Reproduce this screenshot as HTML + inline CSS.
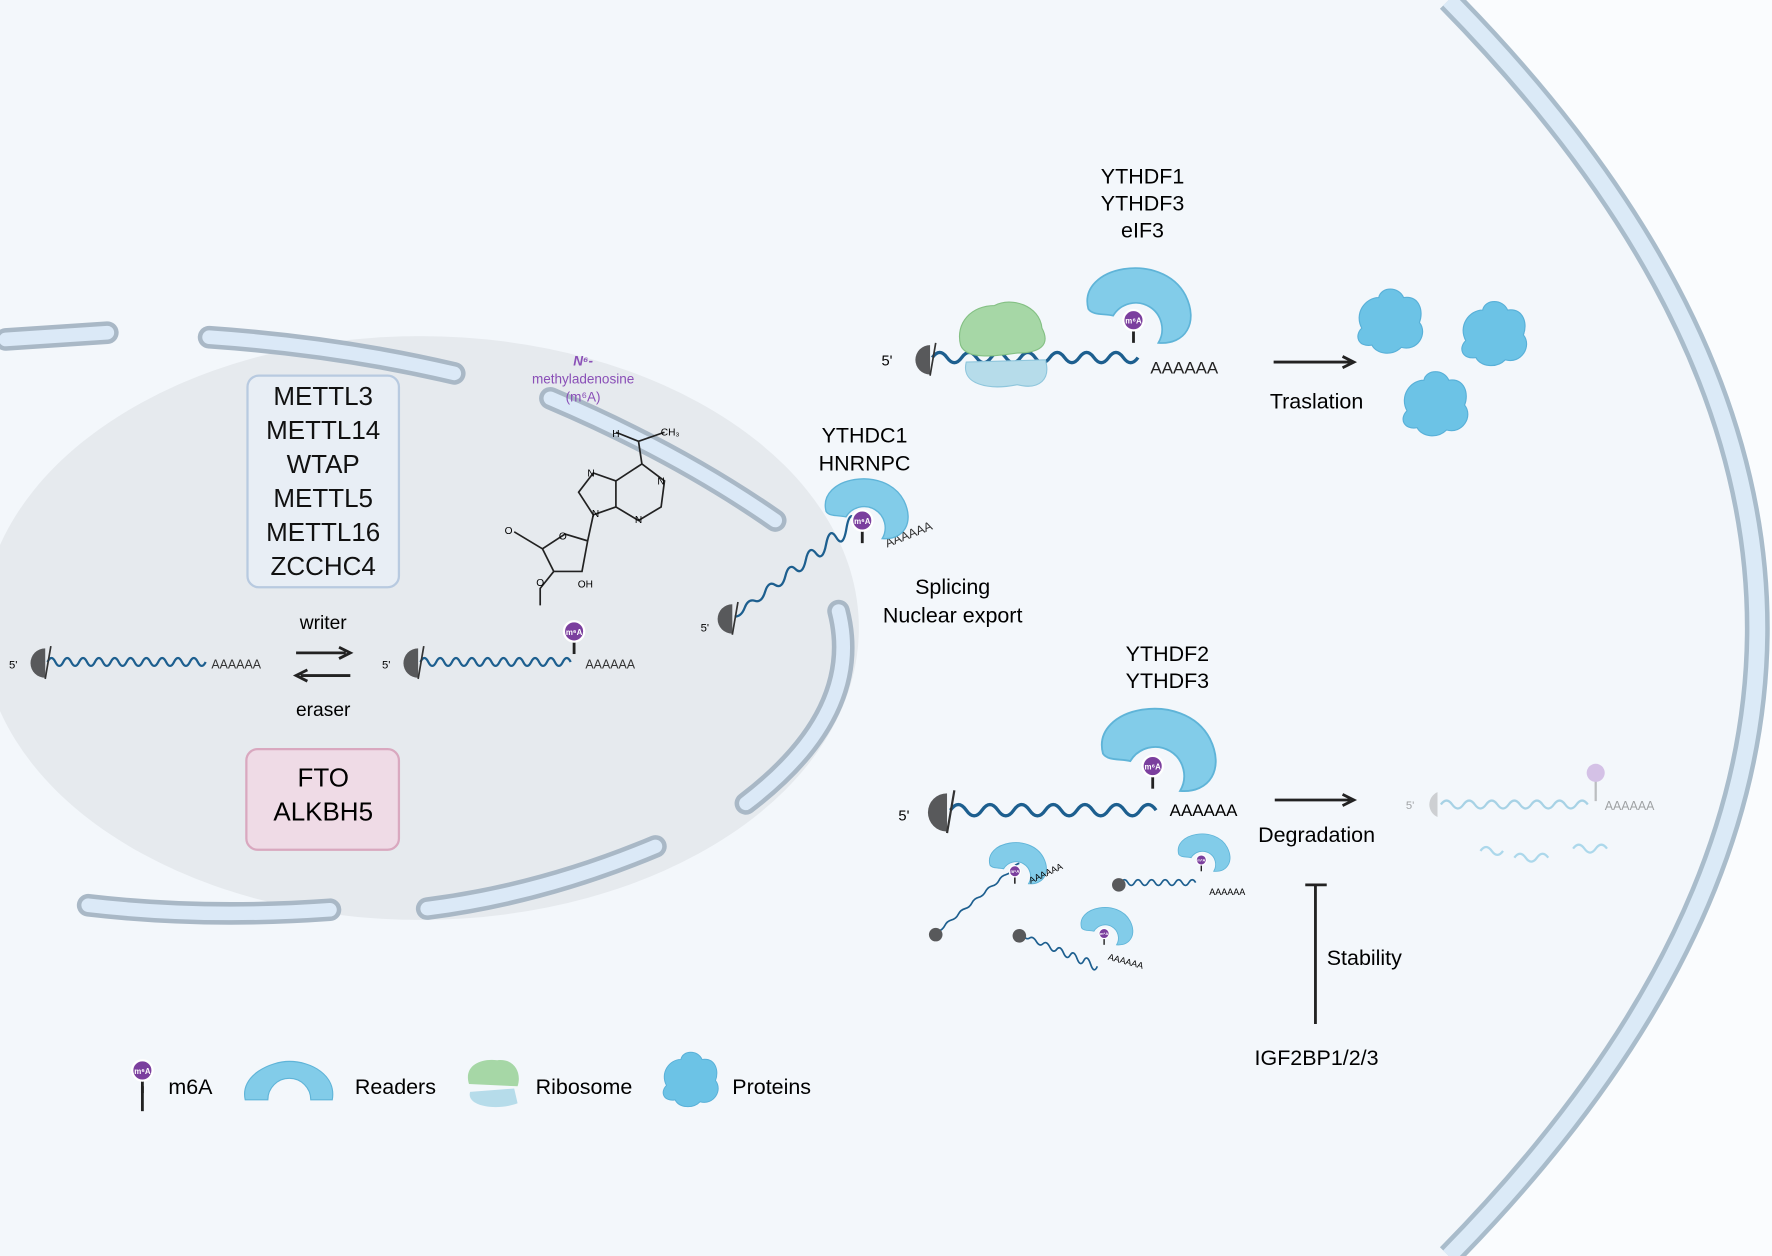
<!DOCTYPE html>
<html><head><meta charset="utf-8"><style>
html,body{margin:0;padding:0;background:#f8fafd;}
svg{display:block;font-family:"Liberation Sans",sans-serif;}
</style></head><body>
<svg width="1772" height="1256" viewBox="0 0 1568 1110" preserveAspectRatio="none" xmlns="http://www.w3.org/2000/svg">
<defs>
<g id="cap"><path d="M0,-13 A13,13 0 0,0 0,13 Z" fill="#58595b"/><line x1="0" y1="14" x2="5" y2="-15" stroke="#333" stroke-width="1.5"/></g>
<g id="m6a"><line x1="0" y1="0" x2="0" y2="20" stroke="#222" stroke-width="2.5"/><circle cx="0" cy="0" r="9" fill="#7b3f9e" stroke="#fff" stroke-width="2"/><text x="0" y="3" font-size="7" fill="#fff" text-anchor="middle" font-weight="bold">m⁶A</text></g>
<path id="reader" d="M-40,-10 C-50,-48 25,-62 46,-22 C58,2 46,22 22,20 A20,20 0 0,0 -18,-4 C-26,-6 -36,-4 -40,-10 Z" fill="#82cce9" stroke="#5fb4d8" stroke-width="1.5"/>
<g id="prot"><path d="M-25,5 C-32,-8 -22,-22 -10,-22 C-8,-32 8,-32 12,-22 C26,-24 30,-10 26,0 C34,10 24,26 10,22 C2,30 -12,28 -16,20 C-28,22 -32,12 -25,5 Z" fill="#6cc3e6" stroke="#58b0d8" stroke-width="1"/></g>
</defs>
<rect width="1568" height="1110" fill="#fafcfe"/>
<!-- cell interior -->
<path d="M0,0 L1282,0 Q1828,555 1282,1110 L0,1110 Z" fill="#f3f7fb"/>
<path d="M1282,0 Q1828,555 1282,1110" fill="none" stroke="#a9bccb" stroke-width="22"/>
<path d="M1282,0 Q1828,555 1282,1110" fill="none" stroke="#dbeaf7" stroke-width="14"/>
<!-- nucleus -->
<ellipse cx="372" cy="555" rx="388" ry="258" fill="#e6eaee"/>
<g fill="none" stroke-linecap="round">
<g stroke="#a9b8c6" stroke-width="20">
<path d="M5,300 L95,294"/><path d="M185,298 Q300,306 402,330"/><path d="M487,352 Q600,400 686,460"/>
<path d="M742,540 Q765,630 660,710"/><path d="M580,748 Q480,790 378,803"/><path d="M78,800 Q180,812 292,804"/>
</g>
<g stroke="#dbe9f7" stroke-width="12">
<path d="M5,300 L95,294"/><path d="M185,298 Q300,306 402,330"/><path d="M487,352 Q600,400 686,460"/>
<path d="M742,540 Q765,630 660,710"/><path d="M580,748 Q480,790 378,803"/><path d="M78,800 Q180,812 292,804"/>
</g>
</g>
<!-- writer box -->
<rect x="219" y="332" width="134" height="187" rx="10" fill="#e8eef5" stroke="#b8cae0" stroke-width="2"/>
<g font-size="23" text-anchor="middle" fill="#111">
<text x="286" y="358">METTL3</text><text x="286" y="388">METTL14</text><text x="286" y="418">WTAP</text>
<text x="286" y="448">METTL5</text><text x="286" y="478">METTL16</text><text x="286" y="508">ZCCHC4</text>
</g>
<rect x="218" y="662" width="135" height="89" rx="10" fill="#efdbe6" stroke="#d9a8bf" stroke-width="2"/>
<text x="286" y="695" font-size="23" text-anchor="middle">FTO</text>
<text x="286" y="725" font-size="23" text-anchor="middle">ALKBH5</text>
<text x="286" y="556" font-size="17" text-anchor="middle">writer</text>
<text x="286" y="633" font-size="17" text-anchor="middle">eraser</text>
<path d="M262,577 H306 M300,572 L310,577 L300,582" stroke="#222" stroke-width="2.5" fill="none"/>
<path d="M266,597 H310 M272,592 L262,597 L272,602" stroke="#222" stroke-width="2.5" fill="none"/>
<!-- m6A molecule -->
<text x="516" y="323" font-size="12" fill="#8a4fb7" text-anchor="middle" font-style="italic" font-weight="bold">N⁶-</text>
<text x="516" y="339" font-size="12" fill="#8a4fb7" text-anchor="middle">methyladenosine</text>
<text x="516" y="355" font-size="12" fill="#8a4fb7" text-anchor="middle">(m⁶A)</text>
<g stroke="#222" stroke-width="1.5" fill="none">
<path d="M565,390 L545,382 M565,390 L588,382 M565,390 L568,410 L588,425 L585,448 L565,460 L545,448 L545,425 L568,410 M545,425 L525,418 L512,435 L525,455 L545,448 M525,455 L520,478 L500,472 L480,485 L490,505 L515,505 L520,478 M490,505 L478,520 L478,535 M480,485 L455,470"/>
</g>
<g font-size="9" text-anchor="middle"><text x="545" y="386">H</text><text x="593" y="385">CH₃</text><text x="523" y="421">N</text><text x="585" y="428">N</text><text x="565" y="462">N</text><text x="527" y="457">N</text><text x="498" y="477">O</text><text x="518" y="519">OH</text><text x="478" y="518">O</text><text x="450" y="472">O</text></g>
<!-- nuclear RNAs -->
<g fill="none" stroke="#1d5f8f" stroke-width="2">
<path d="M42,585 q3.5,-7 7,0 t7,0 t7,0 t7,0 t7,0 t7,0 t7,0 t7,0 t7,0 t7,0 t7,0 t7,0 t7,0 t7,0 t7,0 t7,0 t7,0 t7,0 t7,0 t7,0"/>
<path d="M372,585 q3.5,-7 7,0 t7,0 t7,0 t7,0 t7,0 t7,0 t7,0 t7,0 t7,0 t7,0 t7,0 t7,0 t7,0 t7,0 t7,0 t7,0 t7,0 t7,0 t7,0"/>
</g>
<use href="#cap" x="40" y="586"/><use href="#cap" x="370" y="586"/>
<text x="8" y="591" font-size="10">5'</text><text x="338" y="591" font-size="10">5'</text>
<text x="187" y="591" font-size="11" fill="#333">AAAAAA</text><text x="518" y="591" font-size="11" fill="#333">AAAAAA</text>
<use href="#m6a" x="508" y="558"/>
<!-- exported RNA -->
<path d="M650,545 q6,0 9,-8 t9,-6 t9,-8 t9,-6 t9,-8 t9,-6 t9,-8 t9,-6 t9,-8 t9,-6 t9,-8 t9,-6 t9,-8" fill="none" stroke="#1d5f8f" stroke-width="2"/>
<use href="#cap" x="648" y="547"/><text x="620" y="558" font-size="10">5'</text>
<text x="785" y="484" font-size="11" fill="#333" transform="rotate(-22 785 484)">AAAAAA</text>
<g transform="translate(763 460) scale(0.8)"><use href="#reader"/></g>
<use href="#m6a" x="763" y="460"/>
<text x="765" y="391" font-size="19" text-anchor="middle">YTHDC1</text>
<text x="765" y="416" font-size="19" text-anchor="middle">HNRNPC</text>
<text x="843" y="525" font-size="19" text-anchor="middle">Splicing</text>
<text x="843" y="550" font-size="19" text-anchor="middle">Nuclear export</text>
<!-- translation -->
<text x="1011" y="162" font-size="19" text-anchor="middle">YTHDF1</text>
<text x="1011" y="186" font-size="19" text-anchor="middle">YTHDF3</text>
<text x="1011" y="210" font-size="19" text-anchor="middle">eIF3</text>
<path d="M825,316 q6.5,-9 13,0 t13,0 t13,0 t13,0 t13,0 t13,0 t13,0 t13,0 t13,0 t13,0 t13,0 t13,0 t13,0 t13,0" fill="none" stroke="#1d5f8f" stroke-width="3"/>
<path d="M855,320 C850,340 875,345 900,340 C920,345 930,335 925,318 Z" fill="#b6dcea" stroke="#8fc6dc"/>
<path d="M850,305 C845,285 860,270 880,270 C895,262 920,270 922,290 C930,305 920,312 900,312 C880,315 855,318 850,305 Z" fill="#a6d7a6" stroke="#84c084"/>
<use href="#cap" x="823" y="318"/><text x="780" y="323" font-size="13">5'</text>
<use href="#reader" x="1003" y="283"/><use href="#m6a" x="1003" y="283"/>
<text x="1018" y="330" font-size="15" fill="#222">AAAAAA</text>
<path d="M1127,320 H1195 M1188,315 L1198,320 L1188,325" stroke="#222" stroke-width="2.5" fill="none"/>
<text x="1165" y="361" font-size="19" text-anchor="middle">Traslation</text>
<use href="#prot" x="1230" y="285"/><use href="#prot" x="1322" y="296"/><use href="#prot" x="1270" y="358"/>
<!-- degradation -->
<text x="1033" y="584" font-size="19" text-anchor="middle">YTHDF2</text>
<text x="1033" y="608" font-size="19" text-anchor="middle">YTHDF3</text>
<path d="M841,716 q7,-10 14,0 t14,0 t14,0 t14,0 t14,0 t14,0 t14,0 t14,0 t14,0 t14,0 t14,0 t14,0 t14,0" fill="none" stroke="#1d5f8f" stroke-width="3"/>
<g transform="translate(838 718) scale(1.3)"><use href="#cap"/></g>
<text x="795" y="725" font-size="13">5'</text>
<g transform="translate(1020 677) scale(1.1)"><use href="#reader"/></g>
<use href="#m6a" x="1020" y="677"/>
<text x="1035" y="721" font-size="15">AAAAAA</text>
<path d="M1128,707 H1195 M1188,702 L1198,707 L1188,712" stroke="#222" stroke-width="2.5" fill="none"/>
<text x="1165" y="744" font-size="19" text-anchor="middle">Degradation</text>
<g opacity="0.35">
<path d="M1275,711 q5,-7 10,0 t10,0 t10,0 t10,0 t10,0 t10,0 t10,0 t10,0 t10,0 t10,0 t10,0 t10,0 t10,0" fill="none" stroke="#1d8fbf" stroke-width="2"/>
<path d="M1272,700 A12,12 0 0,0 1272,722 Z" fill="#888"/>
<text x="1244" y="715" font-size="10">5'</text><text x="1420" y="716" font-size="11">AAAAAA</text>
<line x1="1412" y1="688" x2="1412" y2="708" stroke="#555" stroke-width="2"/><circle cx="1412" cy="683" r="8" fill="#9b5fc0"/>
<path d="M1310,752 q5,-7 10,0 t10,0 M1340,758 q5,-7 10,0 t10,0 t10,0 M1392,750 q5,-7 10,0 t10,0 t10,0" fill="none" stroke="#2a9fd0" stroke-width="2"/>
</g>
<!-- small RNAs -->
<g fill="none" stroke="#1d5f8f" stroke-width="1.5">
<path d="M830,823 q4,-1 6,-5 t6,-5 t6,-5 t6,-5 t6,-5 t6,-5 t6,-5 t6,-5 t6,-5 t6,-5 t6,-5 t6,-5"/>
<path d="M992,780 q3,-5 6,0 t6,0 t6,0 t6,0 t6,0 t6,0 t6,0 t6,0 t6,0 t6,0 t6,0"/>
<path d="M905,826 q3,5 6,3 t6,3 t6,2 t6,3 t6,2 t6,3 t6,2 t6,3 t6,2 t6,3 t6,2"/>
</g>
<g transform="translate(898 770) scale(0.55)"><use href="#reader"/><use href="#m6a"/></g>
<g transform="translate(1063 760) scale(0.5)"><use href="#reader"/><use href="#m6a"/></g>
<g transform="translate(977 825) scale(0.5)"><use href="#reader"/><use href="#m6a"/></g>
<circle cx="828" cy="826" r="6" fill="#58595b"/><circle cx="990" cy="782" r="6" fill="#58595b"/><circle cx="902" cy="827" r="6" fill="#58595b"/>
<text x="912" y="781" font-size="8" transform="rotate(-25 912 781)">AAAAAA</text>
<text x="1070" y="791" font-size="8">AAAAAA</text>
<text x="980" y="848" font-size="8" transform="rotate(15 980 848)">AAAAAA</text>
<!-- stability -->
<path d="M1164,782 V905 M1155,782 H1174" stroke="#222" stroke-width="2.5"/>
<text x="1174" y="853" font-size="19">Stability</text>
<text x="1165" y="941" font-size="19" text-anchor="middle">IGF2BP1/2/3</text>
<!-- legend -->
<use href="#m6a" x="126" y="946"/>
<line x1="126" y1="960" x2="126" y2="982" stroke="#222" stroke-width="2.5"/>
<text x="149" y="967" font-size="19">m6A</text>
<path d="M217,972 C212,950 240,938 256,938 C275,938 298,950 294,972 L275,972 A19,19 0 0,0 237,972 Z" fill="#82cce9" stroke="#5fb4d8"/>
<text x="314" y="967" font-size="19">Readers</text>
<path d="M416,965 C412,978 440,982 458,975 L455,962 Z" fill="#b6dcea"/>
<path d="M415,958 C410,942 425,935 440,937 C455,935 462,948 458,960 Z" fill="#a6d7a6"/>
<text x="474" y="967" font-size="19">Ribosome</text>
<g transform="translate(611 955) scale(0.85)"><use href="#prot"/></g>
<text x="648" y="967" font-size="19">Proteins</text>
</svg>
</body></html>
